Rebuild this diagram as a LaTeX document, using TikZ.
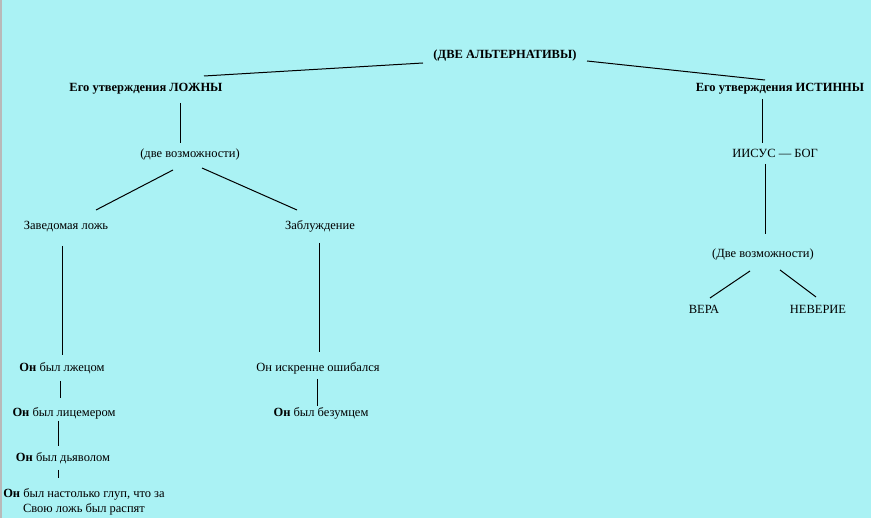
\documentclass[tikz,border=0pt]{standalone}
\usepackage{fontspec}
\setmainfont{Liberation Serif}
\definecolor{bgc}{RGB}{170,242,244}
\definecolor{edgegray}{RGB}{185,185,185}
\begin{document}
\begin{tikzpicture}[x=1pt,y=-1pt,
  txt/.style={inner sep=0pt,font=\fontsize{12.5}{15}\selectfont,text height=9pt,text depth=3pt},
  btxt/.style={txt,font=\fontsize{12.5}{15}\selectfont\bfseries},
  conn/.style={line width=1pt,black}]
\useasboundingbox (0,0) rectangle (871,518);
\fill[bgc] (0,0) rectangle (871,518);
\fill[edgegray] (0,0) rectangle (1.5,518);

\node[btxt] (top) at (505,56) {(ДВЕ АЛЬТЕРНАТИВЫ)};
\node[btxt] (lf) at (146,89) {Его утверждения ЛОЖНЫ};
\node[btxt] (tr) at (780,89) {Его утверждения ИСТИННЫ};
\node[txt] (two1) at (190,155) {(две возможности)};
\node[txt] (zl) at (66,227) {Заведомая ложь};
\node[txt] (zb) at (320,227) {Заблуждение};
\node[txt] (n1) at (62,369) {\textbf{Он} был лжецом};
\node[txt] (n2) at (64,414) {\textbf{Он} был лицемером};
\node[txt] (n3) at (63,459) {\textbf{Он} был дьяволом};
\node[inner sep=0pt,font=\fontsize{12.5}{15}\selectfont,align=center] (n4) at (84,502) {\textbf{Он} был настолько глуп, что за\\Свою ложь был распят};
\node[txt] (m1) at (318,369) {Он искренне ошибался};
\node[txt] (m2) at (321,414) {\textbf{Он} был безумцем};
\node[txt] (ig) at (775,155) {ИИСУС — БОГ};
\node[txt] (two2) at (763,255) {(Две возможности)};
\node[txt] (vera) at (704,311) {ВЕРА};
\node[txt] (nev) at (818,311) {НЕВЕРИЕ};

\draw[conn] ([shift={(-82,7)}]top.center) -- ([shift={(58,-13)}]lf.center);
\draw[conn] ([shift={(82,5)}]top.center) -- ([shift={(-15,-9)}]tr.center);
\draw[conn] ([shift={(34,14)}]lf.center) -- ([shift={(-10,-12)}]two1.center);
\draw[conn] ([shift={(-17,15)}]two1.center) -- ([shift={(30,-17)}]zl.center);
\draw[conn] ([shift={(12,13)}]two1.center) -- ([shift={(-23,-17)}]zb.center);
\draw[conn] ([shift={(-4,19)}]zl.center) -- ([shift={(0,-14)}]n1.center);
\draw[conn] ([shift={(-2,12)}]n1.center) -- ([shift={(-4,-16)}]n2.center);
\draw[conn] ([shift={(-6,7)}]n2.center) -- ([shift={(-5,-13)}]n3.center);
\draw[conn] ([shift={(-5,11)}]n3.center) -- ([shift={(-26,-24)}]n4.center);
\draw[conn] ([shift={(-1,16)}]zb.center) -- ([shift={(1,-17)}]m1.center);
\draw[conn] ([shift={(-1,10)}]m1.center) -- ([shift={(-4,-8)}]m2.center);
\draw[conn] ([shift={(-18,10)}]tr.center) -- ([shift={(-13,-12)}]ig.center);
\draw[conn] ([shift={(-10,9)}]ig.center) -- ([shift={(2,-21)}]two2.center);
\draw[conn] ([shift={(-13,16)}]two2.center) -- ([shift={(6,-13)}]vera.center);
\draw[conn] ([shift={(17,15)}]two2.center) -- ([shift={(-2,-14)}]nev.center);
\end{tikzpicture}
\end{document}
